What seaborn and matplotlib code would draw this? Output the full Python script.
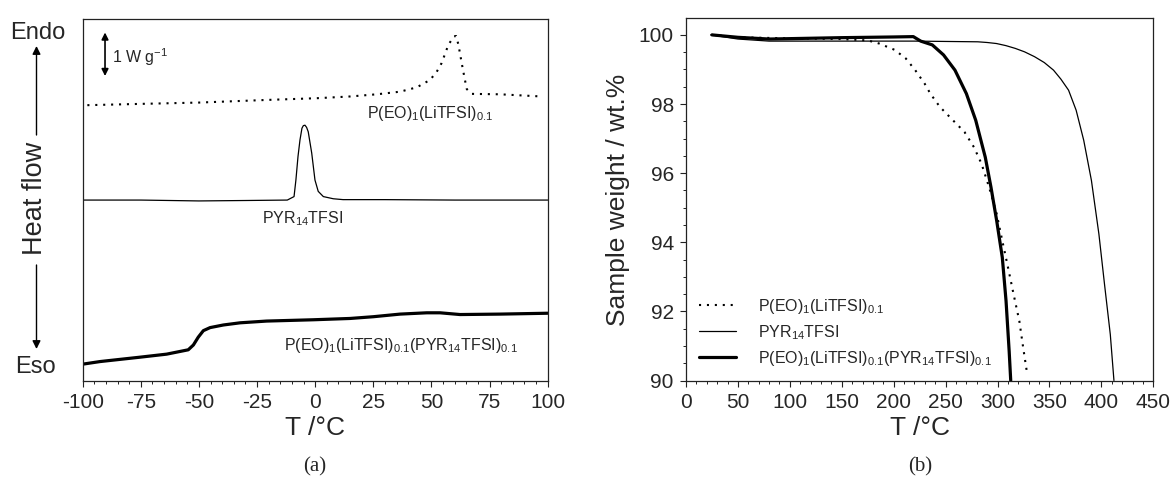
import matplotlib
matplotlib.use("Agg")
import matplotlib.pyplot as plt
import seaborn as sns
import pandas as pd
from matplotlib.ticker import MultipleLocator

# ---------------- (a) DSC data (heat flow in W/g, curves offset) -------------
dsc_T_peo = [-98, -75, -50, -21, 0.6, 15, 26.5, 36.5, 43.7, 49.4, 52.3, 54.4,
             57.3, 59.7, 60.6, 61.6, 63.0, 64.4, 65.2, 67.3, 79.5, 97.4]
dsc_hf_peo = [6.33, 6.36, 6.39, 6.45, 6.49, 6.53, 6.58, 6.64, 6.74, 6.91, 7.10, 7.30,
              7.72, 7.91, 7.92, 7.72, 7.30, 6.91, 6.70, 6.59, 6.58, 6.53]

dsc_T_pyr = [-100, -75, -50, -30, -12, -9.1, -8.3, -7.4, -6.55, -5.7, -5.1, -4.4,
             -3.7, -3.0, -1.5, -0.1, 1.3, 3.5, 7.8, 12, 30, 60, 100]
dsc_hf_pyr = [4.15, 4.15, 4.13, 4.14, 4.15, 4.23, 4.61, 5.15, 5.53, 5.80, 5.86, 5.87,
              5.82, 5.72, 5.23, 4.61, 4.35, 4.23, 4.18, 4.16, 4.16, 4.15, 4.15]

dsc_T_comp = [-100, -92.5, -75.4, -63.9, -54.6, -52.4, -50.3, -48.1, -45.2, -39.5,
              -32.3, -20.9, -0.8, 15, 25, 36.5, 48, 53.7, 62.3, 79.5, 100]
dsc_hf_comp = [0.38, 0.44, 0.54, 0.61, 0.71, 0.82, 1.00, 1.15, 1.22, 1.28,
               1.33, 1.37, 1.40, 1.43, 1.47, 1.53, 1.56, 1.56, 1.52, 1.53, 1.55]

# ---------------- (b) TGA data (wt.%) ----------------------------------------
tga_T_peo = [25, 50, 100, 150, 175, 186, 200.7, 211.6, 220.7, 229.8, 235.3, 244.4,
             255.4, 268.2, 277.3, 284.6, 291.9, 299.2, 304.6, 310.1, 315.5, 321,
             324.7, 328.4]
tga_w_peo = [100.0, 99.93, 99.9, 99.88, 99.84, 99.75, 99.57, 99.32, 98.98, 98.59,
             98.30, 97.92, 97.58, 97.19, 96.75, 96.27, 95.59, 94.82, 94.04, 93.27,
             92.49, 91.72, 90.95, 90.22]

tga_T_pyr = [23.8, 50, 80, 150, 220, 281, 290, 299, 308, 317, 326, 335.6, 345,
             353.9, 361, 368.4, 375.7, 383, 390.4, 397.6, 403, 408.6, 412.1]
tga_w_pyr = [100.0, 99.88, 99.82, 99.82, 99.82, 99.80, 99.78, 99.75, 99.69, 99.61,
             99.51, 99.37, 99.20, 98.98, 98.72, 98.40, 97.82, 96.95, 95.79, 94.24,
             92.79, 91.33, 90.0]

tga_T_comp = [25, 50, 80, 150, 200, 218.9, 226, 237.2, 248, 259, 270, 279, 288.2,
              293.7, 299.2, 304.6, 308.2, 311.2, 312.7]
tga_w_comp = [100.0, 99.93, 99.88, 99.92, 99.94, 99.95, 99.82, 99.71, 99.42, 98.98,
              98.30, 97.53, 96.46, 95.59, 94.62, 93.56, 92.30, 90.85, 90.0]

lab_peo = r"P(EO)$\mathregular{_1}$(LiTFSI)$\mathregular{_{0.1}}$"
lab_pyr = r"PYR$\mathregular{_{14}}$TFSI"
lab_comp = (r"P(EO)$\mathregular{_1}$(LiTFSI)$\mathregular{_{0.1}}$"
            r"(PYR$\mathregular{_{14}}$TFSI)$\mathregular{_{0.1}}$")

# ---------------- style ------------------------------------------------------
sns.set_style("ticks")
plt.rcParams["font.family"] = ["Liberation Sans", "DejaVu Sans"]
plt.rcParams["axes.unicode_minus"] = False
plt.rcParams["axes.linewidth"] = 0.9
plt.rcParams["axes.edgecolor"] = "#222222"

W, H = 1173, 478
fig = plt.figure(figsize=(W / 100, H / 100), dpi=100)


def fx(px):
    return px / W


def fy(py):
    return 1 - py / H


ax1 = fig.add_axes([fx(82.7), fy(380.7), fx(547.7) - fx(82.7), fy(19) - fy(380.7)])
ax2 = fig.add_axes([fx(686), fy(380.5), fx(1153.3) - fx(686), fy(18.3) - fy(380.5)])

dot = (0, (1, 2.8))
dotlw = 1.5
thin = 0.9
thick = 2.3

# ---- panel (a)
sns.lineplot(x=dsc_T_peo, y=dsc_hf_peo, ax=ax1, color="black", lw=dotlw,
             linestyle=dot, estimator=None, sort=False)
sns.lineplot(x=dsc_T_pyr, y=dsc_hf_pyr, ax=ax1, color="black", lw=thin,
             estimator=None, sort=False)
sns.lineplot(x=dsc_T_comp, y=dsc_hf_comp, ax=ax1, color="black", lw=thick,
             estimator=None, sort=False)
ax1.set_xlim(-100, 100)
ax1.set_ylim(0, 8.31)
ax1.set_yticks([])
ax1.xaxis.set_major_locator(MultipleLocator(25))
ax1.xaxis.set_minor_locator(MultipleLocator(5))
ax1.set_xlabel("T /°C", fontsize=19, labelpad=3)
ax1.set_ylabel("")

ax1.text(22.2, 6.15, lab_peo, fontsize=11.5, va="center", ha="left")
ax1.text(-5.4, 3.73, lab_pyr, fontsize=11.5, va="center", ha="center")
ax1.text(-13.3, 0.80, lab_comp, fontsize=11.5, va="center", ha="left")

# 1 W/g scale bar
ax1.annotate("", xy=(-90.4, 8.0), xytext=(-90.4, 7.0),
             arrowprops=dict(arrowstyle="<|-|>", color="black", lw=1.2,
                             mutation_scale=10, shrinkA=0, shrinkB=0))
ax1.text(-87.5, 7.43, r"1 W g$\mathregular{^{-1}}$", fontsize=11.5, va="center", ha="left")

# ---- panel (b)
sns.lineplot(x=tga_T_peo, y=tga_w_peo, ax=ax2, color="black", lw=dotlw,
             linestyle=dot, estimator=None, sort=False, label=lab_peo)
sns.lineplot(x=tga_T_pyr, y=tga_w_pyr, ax=ax2, color="black", lw=thin,
             estimator=None, sort=False, label=lab_pyr)
sns.lineplot(x=tga_T_comp, y=tga_w_comp, ax=ax2, color="black", lw=thick,
             estimator=None, sort=False, label=lab_comp)
ax2.set_xlim(0, 450)
ax2.set_ylim(90, 100.48)
ax2.xaxis.set_major_locator(MultipleLocator(50))
ax2.xaxis.set_minor_locator(MultipleLocator(10))
ax2.yaxis.set_major_locator(MultipleLocator(2))
ax2.yaxis.set_minor_locator(MultipleLocator(0.5))
ax2.set_xlabel("T /°C", fontsize=19, labelpad=3)
ax2.set_ylabel("Sample weight / wt.%", fontsize=19, labelpad=6)
ax2.legend(loc="lower left", frameon=False, fontsize=11.5, handlelength=2.3,
           handletextpad=1.4, labelspacing=0.45, borderaxespad=0.4, borderpad=0.4)

for ax in (ax1, ax2):
    ax.tick_params(which="major", direction="out", length=4.3, width=0.8,
                   labelsize=15, pad=4.5, top=False, right=False, color="#222222")
    ax.tick_params(which="minor", direction="out", length=2.4, width=0.7,
                   top=False, right=False, color="#222222")
    for s in ax.spines.values():
        s.set_visible(True)

# ---- outside annotations for (a)
fig.text(fx(38), fy(33), "Endo", fontsize=17, ha="center", va="center")
fig.text(fx(35), fy(366.7), "Eso", fontsize=17, ha="center", va="center")
fig.text(fx(35), fy(198), "Heat flow", fontsize=19.5, ha="center", va="center",
         rotation=90)
fig.add_artist(matplotlib.patches.FancyArrowPatch(
    (fx(36.5), fy(135)), (fx(36.5), fy(46)), transform=fig.transFigure,
    arrowstyle="-|>", mutation_scale=12, color="black", lw=1.0, shrinkA=0, shrinkB=0))
fig.add_artist(matplotlib.patches.FancyArrowPatch(
    (fx(36.5), fy(265)), (fx(36.5), fy(349)), transform=fig.transFigure,
    arrowstyle="-|>", mutation_scale=12, color="black", lw=1.0, shrinkA=0, shrinkB=0))

# captions
fig.text(fx(315), fy(466.5), "(a)", fontsize=15, ha="center", va="center",
         family="Liberation Serif")
fig.text(fx(919.7), fy(466.5), "(b)", fontsize=15, ha="center", va="center",
         family="Liberation Serif")

fig.savefig("out.png", dpi=100)
